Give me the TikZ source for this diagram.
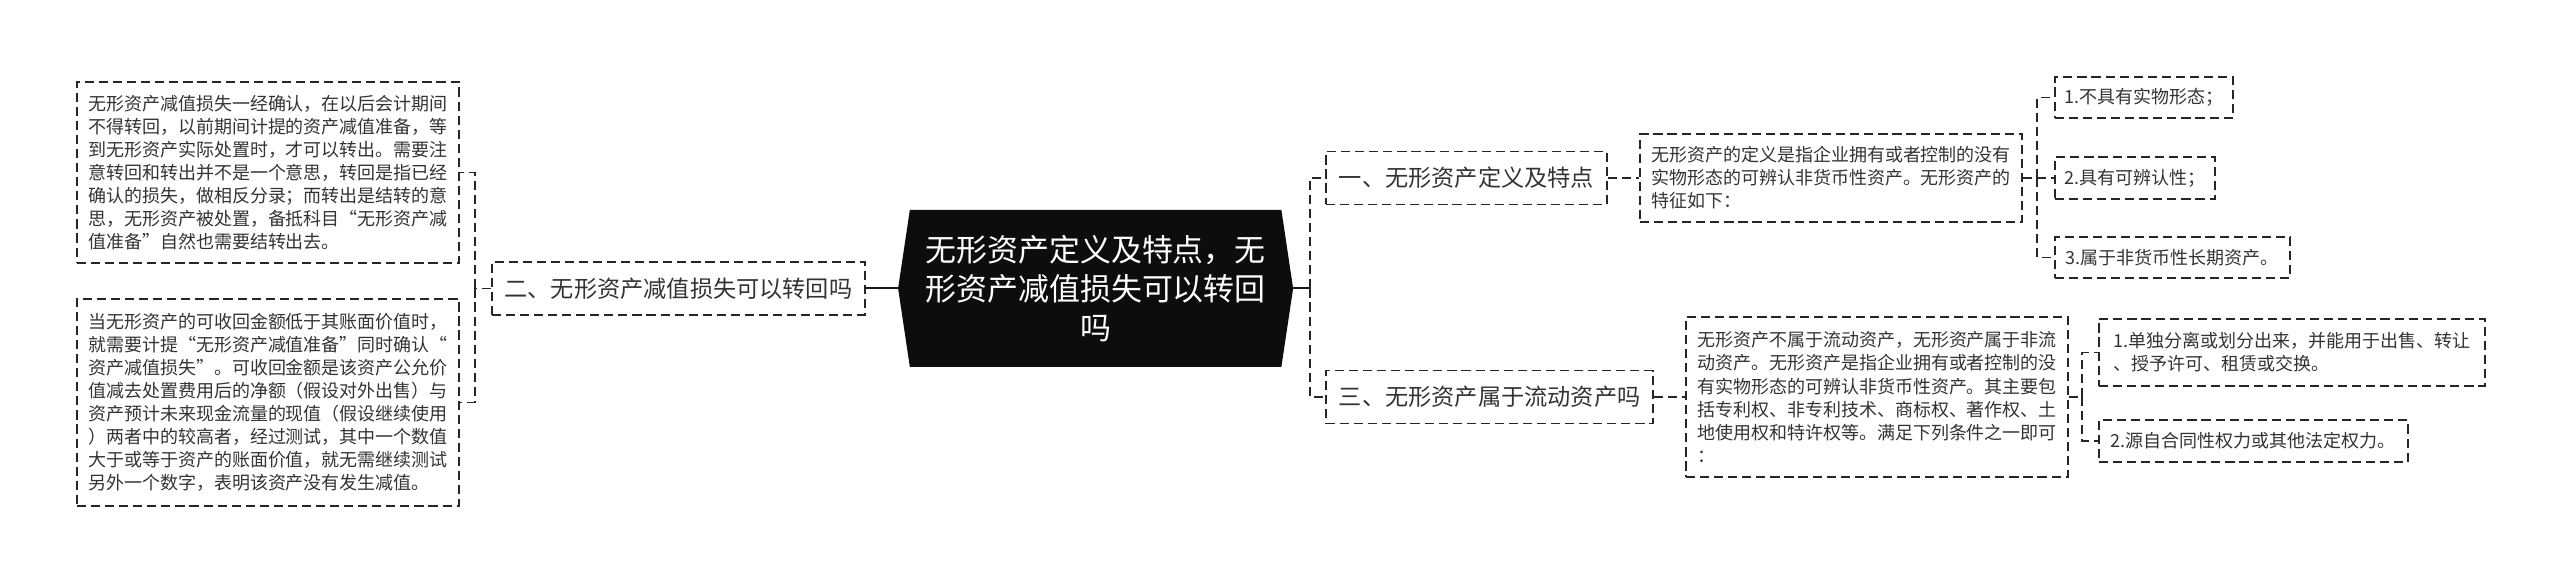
\documentclass[tikz,border=0pt]{standalone}
\usepackage{fontspec}
\setmainfont{Noto Sans CJK SC}
\usepackage{tikz}
\usetikzlibrary{positioning,shapes.symbols}

\begin{document}
\begin{tikzpicture}[
    root/.style={signal, signal to=west and east, signal pointer angle=163, fill=black!95, text=white, align=center, inner sep=0pt, minimum width=9.875cm, minimum height=3.925cm, font=\fontsize{22}{27.7}\selectfont},
    topic/.style={draw=black!85, line width=1.2pt, dash pattern=on 6.5pt off 3.5pt, inner sep=0pt, minimum height=1.32cm, text=black!80, font=\fontsize{16.5}{20}\selectfont},
    leaf/.style={draw=black!85, line width=1.2pt, dash pattern=on 6.5pt off 3.5pt, inner sep=0pt, align=left, text=black!80, font=\fontsize{12.8}{16.4}\selectfont},
    link/.style={draw=black!85, line width=1.2pt, dash pattern=on 6.5pt off 3.5pt},
    rootlink/.style={draw=black!90, line width=1.4pt},
]
    \useasboundingbox (0,0) rectangle (64,14.6);

    % Center
    \node[root] (root) at (27.39, 7.39) {无形资产定义及特点，无\\形资产减值损失可以转回\\吗};

    % Left branch
    \node[topic, minimum width=9.33cm] (er) at (16.96, 7.39) {二、无形资产减值损失可以转回吗};
    \node[leaf, minimum width=9.55cm, minimum height=4.525cm] (l1) at (6.70, 10.29) {无形资产减值损失一经确认，在以后会计期间\\不得转回，以前期间计提的资产减值准备，等\\到无形资产实际处置时，才可以转出。需要注\\意转回和转出并不是一个意思，转回是指已经\\确认的损失，做相反分录；而转出是结转的意\\思，无形资产被处置，备抵科目“无形资产减\\值准备”自然也需要结转出去。};
    \node[leaf, minimum width=9.55cm, minimum height=5.175cm] (l2) at (6.70, 4.54) {当无形资产的可收回金额低于其账面价值时，\\就需要计提“无形资产减值准备”同时确认“\\资产减值损失”。可收回金额是该资产公允价\\值减去处置费用后的净额（假设对外出售）与\\资产预计未来现金流量的现值（假设继续使用\\）两者中的较高者，经过测试，其中一个数值\\大于或等于资产的账面价值，就无需继续测试\\另外一个数字，表明该资产没有发生减值。};

    % Right branch
    \node[topic, minimum width=7.025cm] (yi) at (36.66, 10.15) {一、无形资产定义及特点};
    \node[topic, minimum width=8.175cm] (san) at (37.24, 4.675) {三、无形资产属于流动资产吗};

    \node[leaf, minimum width=9.55cm, minimum height=2.2cm] (def) at (45.775, 10.15) {无形资产的定义是指企业拥有或者控制的没有\\实物形态的可辨认非货币性资产。无形资产的\\特征如下：};
    \node[leaf, anchor=west, minimum width=4.45cm, minimum height=1.03cm] (f1) at (51.35, 12.16) {1.不具有实物形态；};
    \node[leaf, anchor=west, minimum width=4.0cm, minimum height=1.05cm] (f2) at (51.35, 10.15) {2.具有可辨认性；};
    \node[leaf, anchor=west, minimum width=5.875cm, minimum height=1.03cm] (f3) at (51.35, 8.16) {3.属于非货币性长期资产。};

    \node[leaf, minimum width=9.55cm, minimum height=4.0cm] (liu) at (46.925, 4.675) {无形资产不属于流动资产，无形资产属于非流\\动资产。无形资产是指企业拥有或者控制的没\\有实物形态的可辨认非货币性资产。其主要包\\括专利权、非专利技术、商标权、著作权、土\\地使用权和特许权等。满足下列条件之一即可\\：};
    \node[leaf, anchor=west, minimum width=9.65cm, minimum height=1.675cm] (c1) at (52.45, 5.79) {1.单独分离或划分出来，并能用于出售、转让\\、授予许可、租赁或交换。};
    \node[leaf, anchor=west, minimum width=7.725cm, minimum height=1.05cm] (c2) at (52.45, 3.575) {2.源自合同性权力或其他法定权力。};

    % Trunks
    \coordinate (ltrunk) at (11.875, 7.39);
    \coordinate (rtrunk) at (32.75, 7.39);
    \coordinate (dtrunk) at (50.925, 10.15);
    \coordinate (ctrunk) at (52.05, 4.675);

    \draw[rootlink] (root.west) -- (er.east);
    \draw[rootlink] (root.east) -- (rtrunk);

    \draw[link] (er.west) -- (ltrunk);
    \draw[link] (ltrunk) |- (l1.east);
    \draw[link] (ltrunk) |- (l2.east);

    \draw[link] (rtrunk) |- (yi.west);
    \draw[link] (rtrunk) |- (san.west);
    \draw[link] (yi) -- (def);
    \draw[link] (san) -- (liu);

    \draw[link] (def.east) -- (dtrunk);
    \draw[link] (dtrunk) |- (f1.west);
    \draw[link] (dtrunk) -- (f2.west);
    \draw[link] (dtrunk) |- (f3.west);

    \draw[link] (liu.east) -- (ctrunk);
    \draw[link] (ctrunk) |- (c1.west);
    \draw[link] (ctrunk) |- (c2.west);
\end{tikzpicture}
\end{document}
